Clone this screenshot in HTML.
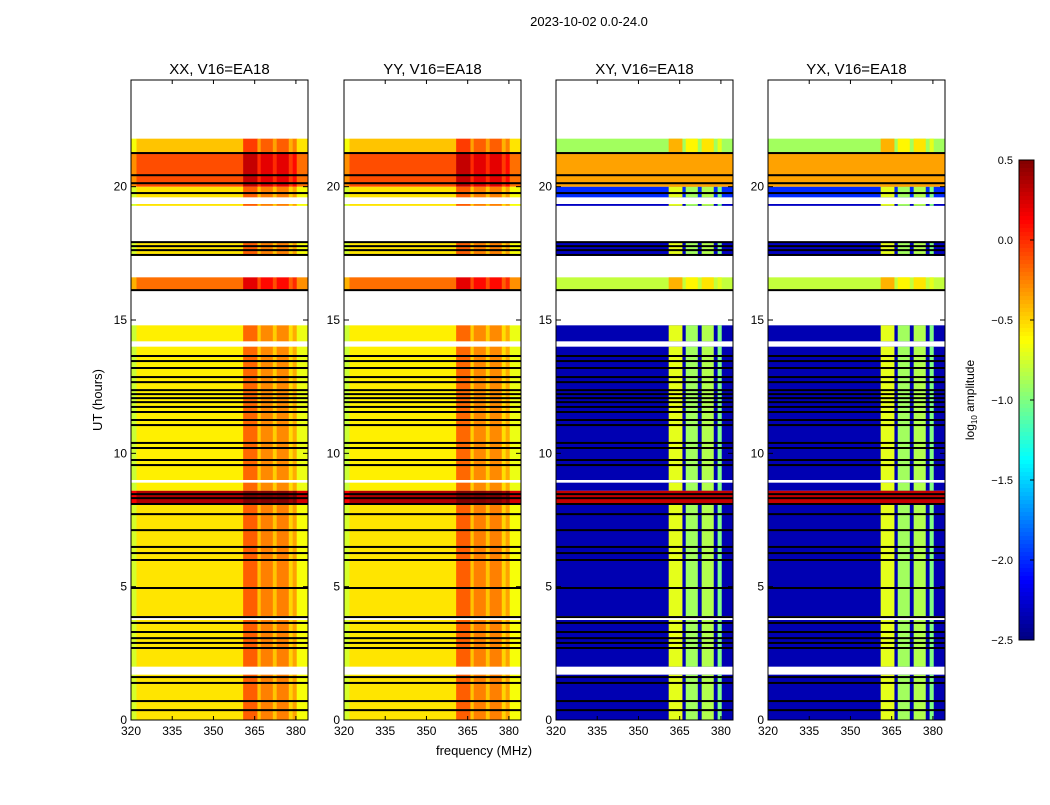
<!DOCTYPE html>
<html><head><meta charset="utf-8"><style>
body{margin:0;background:#fff;font-family:"Liberation Sans",sans-serif}
svg text{font-family:"Liberation Sans","DejaVu Sans",sans-serif}
</style></head><body>
<svg id="fig" width="1050" height="800" xmlns="http://www.w3.org/2000/svg">
<rect width="1050" height="800" fill="#fff"/>
<text x="589" y="26" font-size="13" text-anchor="middle">2023-10-02 0.0-24.0</text>
<text x="484" y="755" font-size="13" text-anchor="middle">frequency (MHz)</text>
<text transform="translate(102,400) rotate(-90)" font-size="13" text-anchor="middle">UT (hours)</text>
<g id="panels"></g>
<g id="cbar"></g>
</svg>
<script>
const panelTitles=["XX, V16=EA18","YY, V16=EA18","XY, V16=EA18","YX, V16=EA18"];
const panelKinds=["par","par","cross","cross"];
const dataSegments=[[0,1.7],[2.0,3.75],[3.9,8.9],[9.0,14.0],[14.2,14.8],[16.1,16.6],[17.4,17.9],[19.28,19.35],[19.6,21.8]];
const blackLines=[21.26,20.43,20.13,19.76,17.92,17.77,17.62,17.44,16.12,13.65,13.46,13.2,12.86,12.67,12.37,12.22,12.07,11.92,11.74,11.55,11.25,11.06,10.39,10.2,9.75,9.56,8.47,8.32,8.1,7.72,7.12,6.49,6.26,6.0,4.95,3.86,3.64,3.3,3.07,2.89,2.7,1.61,1.39,0.71,0.37];
const parRows=[[0,8.1,-0.55],[8.1,8.6,0.35],[8.6,16.1,-0.58],[16.1,16.6,-0.2],[16.6,20,-0.55],[20,21.3,-0.1],[21.3,21.8,-0.45]];
const crossRows=[[0,8.1,-2.35],[8.1,8.6,0.3],[8.6,16.1,-2.35],[16.1,16.6,-0.8],[16.6,19.6,-2.3],[19.6,20.0,-2.0],[20.0,21.3,-0.35],[21.3,21.8,-0.9]];
const parCols=[[320,322,-0.2],[322,360.8,0],[360.8,366,0.4],[366,367.2,0.1],[367.2,371.6,0.3],[371.6,373,0.1],[373,377.4,0.3],[377.4,378.8,0.05],[378.8,380.3,0.2],[380.3,384.4,-0.1]];
const crossCols=[[361,366,-0.7],[367.2,371.6,-0.9],[373,377.4,-0.85],[378.8,380.3,-1.0]];
const xTicks=[320,335,350,365,380];
const yTicks=[0,5,10,15,20];
const cbTicks=[0.5,0.0,-0.5,-1.0,-1.5,-2.0,-2.5];
const panelX=[131,344,556,768];
const PW=177, PT=80, PB=720, F0=320, F1=384.4, H0=0, H1=24, VMIN=-2.5, VMAX=0.5;
const NS="http://www.w3.org/2000/svg";
function xs(px,f){return px+(f-F0)/(F1-F0)*PW;}
function ys(h){return PB-(h-H0)/(H1-H0)*(PB-PT);}
function jet(v){let t=(v-VMIN)/(VMAX-VMIN);t=Math.max(0,Math.min(1,t));
 const c=x=>Math.round(255*Math.max(0,Math.min(1,1.5-Math.abs(4*t-x))));
 return `rgb(${c(3)},${c(2)},${c(1)})`;}
function mk(tag,attrs,parent){const e=document.createElementNS(NS,tag);for(const k in attrs)e.setAttribute(k,attrs[k]);parent.appendChild(e);return e;}
const G=document.getElementById('panels');
function clip(a,b,c,d){return [Math.max(a,c),Math.min(b,d)];}
panelX.forEach((px,pi)=>{
 const g=mk('g',{},G);
 
 
 const hm=mk('g',{},g);
 
 
 const cross=panelKinds[pi]==='cross';
 const rows=cross?crossRows:parRows;
 dataSegments.forEach(seg=>{rows.forEach(r=>{
  const [a,b]=clip(seg[0],seg[1],r[0],r[1]); if(b<=a)return;
  const y1=ys(b),y2=ys(a);
  if(cross){
   const base=mk('rect',{x:px,y:y1,width:PW,height:y2-y1,fill:jet(r[2])},hm);
   
   
   crossCols.forEach(c=>{const v=Math.max(r[2],c[2]+(r[2]>-1?0.3:0));
    const e=mk('rect',{x:xs(px,c[0]),y:y1,width:xs(px,c[1])-xs(px,c[0]),height:y2-y1,fill:jet(v)},hm);
    
    });
  }else{
   parCols.forEach(c=>{const e=mk('rect',{x:xs(px,c[0]),y:y1,width:xs(px,c[1])-xs(px,c[0])+0.3,height:y2-y1,fill:jet(r[2]+c[2])},hm);
    
    });
  }
 });});
 blackLines.forEach(h=>{const l=mk('rect',{x:px,y:ys(h)-1,width:PW,height:2,fill:'#000'},hm);
  
  });
 const fr=mk('rect',{x:px,y:PT,width:PW,height:PB-PT,fill:'none',stroke:'#000','stroke-width':1},g);
 
 
 const t=mk('text',{x:px+PW/2,y:74,'font-size':15,'text-anchor':'middle'},g);t.textContent=panelTitles[pi];
 
 
 xTicks.forEach(f=>{const x=xs(px,f);
  mk('line',{x1:x,x2:x,y1:PB,y2:PB-4,stroke:'#000'},g);mk('line',{x1:x,x2:x,y1:PT,y2:PT+4,stroke:'#000'},g);
  const tl=mk('text',{x:x,y:PB+15,'font-size':12,'text-anchor':'middle'},g);tl.textContent=f;
  
  });
 yTicks.forEach(h=>{const y=ys(h);
  mk('line',{x1:px,x2:px+5,y1:y,y2:y,stroke:'#000'},g);mk('line',{x1:px+PW,x2:px+PW-5,y1:y,y2:y,stroke:'#000'},g);
  const tl=mk('text',{x:px-4,y:y+4,'font-size':12,'text-anchor':'end'},g);tl.textContent=h;
  
  });
});
const CB=document.getElementById('cbar');


const cx=1019,cw=15,ct=160,cbt=640;
for(let i=0;i<120;i++){const v=VMAX-(i+0.5)/120*(VMAX-VMIN);
 mk('rect',{x:cx,y:ct+i*(cbt-ct)/120,width:cw,height:(cbt-ct)/120+0.5,fill:jet(v)},CB);}
mk('rect',{x:cx,y:ct,width:cw,height:cbt-ct,fill:'none',stroke:'#000'},CB);
cbTicks.forEach(v=>{const y=ct+(VMAX-v)/(VMAX-VMIN)*(cbt-ct);
 mk('line',{x1:cx+cw,x2:cx+cw-4,y1:y,y2:y,stroke:'#000'},CB);
 const tl=mk('text',{x:cx-6,y:y+4,'font-size':11,'text-anchor':'end'},CB);tl.textContent=v.toFixed(1).replace('-','\u2212');
 
 });
const cl=mk('text',{transform:'translate(974,400) rotate(-90)','font-size':12,'text-anchor':'middle'},CB);
cl.innerHTML='log<tspan font-size="8" dy="3">10</tspan><tspan dy="-3"> amplitude</tspan>';


</script>
</body></html>
